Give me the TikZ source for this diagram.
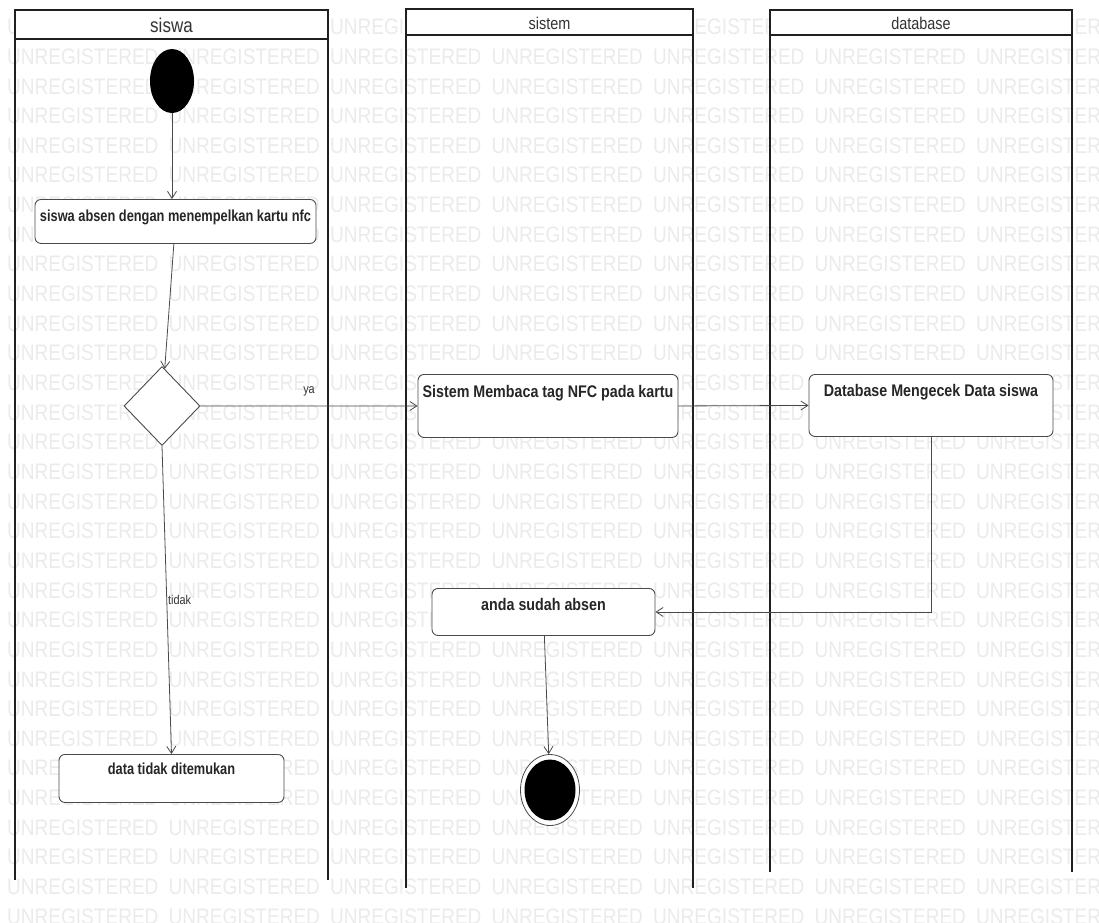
\documentclass[tikz,border=0pt]{standalone}
\usepackage{fontspec}
\usetikzlibrary{arrows.meta, shapes.geometric}
\newfontfamily\sempit[FakeStretch=0.85]{Liberation Sans}
\newfontfamily\sempitkiri[FakeStretch=0.8]{Liberation Sans}
\definecolor{garis}{HTML}{202020}
\definecolor{tepi}{HTML}{4A4A4A}
\definecolor{abutanda}{HTML}{EBEBEB}
\def\daftarlajur{15/328/10/39/880/siswa/20, 406/693/9/35/888/sistem/17, 770/1072/10/35/872/database/17}
\tikzset{
  lajur/.style={draw=garis, line width=1.6pt},
  tandaair/.style={anchor=west, inner sep=0pt, text=abutanda, font=\sempit\fontsize{22.4}{24}\selectfont},
  judul/.style={inner sep=0pt, text=black!80},
  aksi/.style={rectangle, rounded corners=6pt, draw=tepi, fill=white, line width=0.9pt,
    inner xsep=0pt, inner ysep=0pt, anchor=north, text=black!85,
    font=\sempit\bfseries\fontsize{16.8}{18}\selectfont},
  aksikiri/.style={aksi, font=\sempitkiri\bfseries\fontsize{16}{18}\selectfont},
  keputusan/.style={diamond, draw=tepi, fill=white, line width=0.9pt, inner sep=0pt,
    minimum width=76pt, minimum height=79pt},
  awal/.style={ellipse, fill=black, inner sep=0pt, minimum width=44pt, minimum height=64pt},
  akhir/.style={ellipse, draw=tepi, fill=white, line width=0.8pt, inner sep=0pt,
    minimum width=59pt, minimum height=71pt},
  panah/.style={draw=tepi, line width=0.8pt, -{Straight Barb[length=7pt, width=9pt]}},
  ket/.style={inner sep=1pt, text=black!80, font=\sempit\fontsize{12.8}{14}\selectfont},
}

\begin{document}
\begin{tikzpicture}[x=1pt, y=-1pt]
  \useasboundingbox (0,0) rectangle (1099,922);
  \fill[white] (0,0) rectangle (1099,922);

  % ---------------- tanda air ----------------
  \begin{scope}
    \clip (0,0) rectangle (1099,922);
    \foreach \baris in {0,...,30}
      \foreach \kolom in {0,...,6}
        \node[tandaair] at ({7+161.5*\kolom}, {27+29.65*\baris}) {UNREGISTERED};
  \end{scope}

  % ---------------- lajur ----------------
  \foreach \xa/\xb/\ya/\yb/\yc/\nama/\ukuran in \daftarlajur {
    \fill[white] (\xa,\ya) rectangle (\xb,\yb);
    \draw[lajur] (\xa,\yc) -- (\xa,\ya) -- (\xb,\ya) -- (\xb,\yc);
    \draw[lajur] (\xa,\yb) -- (\xb,\yb);
    \node[judul, font=\sempit\fontsize{\ukuran}{\ukuran}\selectfont] (judul-\nama)
      at ({(\xa+\xb)/2}, {(\ya+\yb)/2+1}) {\nama};
  }

  % ---------------- aktivitas ----------------
  \node[awal] (mulai) at (172,81) {};
  \node[aksikiri, minimum width=281pt, text height=22pt, text depth=22pt]
    (absen) at (175.5,199) {siswa absen dengan menempelkan kartu nfc};
  \node[keputusan] (pilih) at (162,406) {};
  \node[aksi, minimum width=260pt, text height=23pt, text depth=40pt]
    (baca) at (548,374) {Sistem Membaca tag NFC pada kartu};
  \node[aksi, minimum width=244pt, text height=22pt, text depth=40pt]
    (cek) at (931,374) {Database Mengecek Data siswa};
  \node[aksi, minimum width=223pt, text height=22pt, text depth=25pt]
    (sudah) at (543.5,588) {anda sudah absen};
  \node[aksikiri, minimum width=225pt, text height=20pt, text depth=28pt]
    (tidakada) at (171.5,754) {data tidak ditemukan};
  \node[akhir] (selesai) at (550,790) {};
  \node[ellipse, fill=black, inner sep=0pt, minimum width=51pt, minimum height=61pt]
    (selesai-isi) at (selesai.center) {};

  % ---------------- alur ----------------
  \draw[panah] (mulai.south) -- (mulai.south |- absen.north);
  \draw[panah] (absen) -- (pilih);
  \draw[panah] (pilih.east) -- node[ket, midway, above=8pt] {ya} (baca.west);
  \draw[panah] (baca.east) -- (cek.west);
  \draw[panah] (cek.south) |- (sudah.east);
  \draw[panah] (pilih.south) -- node[ket, midway, right] {tidak} (tidakada.north);
  \draw[panah] (sudah) -- (selesai);
\end{tikzpicture}
\end{document}
